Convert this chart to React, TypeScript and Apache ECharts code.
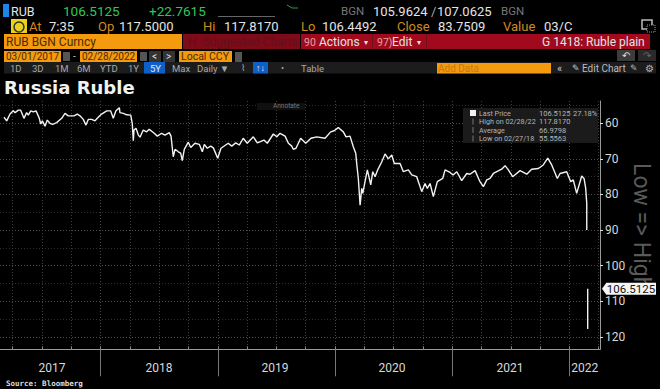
import React, { useEffect, useRef } from "react";
import * as echarts from "echarts";

const dates: number[] = [
  2017.176, 2017.199, 2017.227, 2017.255, 2017.27, 2017.298, 2017.318, 2017.346, 2017.369, 2017.383, 2017.404, 2017.426, 2017.449, 2017.477, 2017.489, 2017.503, 2017.526, 2017.545, 2017.568, 2017.591, 2017.625, 2017.668, 2017.696, 2017.724, 2017.753, 2017.773, 2017.801, 2017.824, 2017.852, 2017.875, 2017.895, 2017.924, 2017.952, 2017.986,
  2018.009, 2018.052, 2018.086, 2018.108, 2018.131, 2018.16, 2018.165, 2018.194, 2018.223, 2018.257, 2018.27, 2018.279, 2018.285, 2018.302, 2018.322, 2018.336, 2018.364, 2018.393, 2018.415, 2018.45, 2018.484, 2018.521, 2018.549, 2018.586, 2018.601, 2018.612, 2018.62, 2018.635, 2018.663, 2018.683, 2018.697, 2018.714, 2018.748, 2018.769, 2018.805, 2018.842, 2018.868, 2018.885, 2018.91, 2018.939, 2018.962, 2018.999,
  2019.027, 2019.089, 2019.119, 2019.153, 2019.183, 2019.217, 2019.251, 2019.303, 2019.337, 2019.394, 2019.422, 2019.474, 2019.503, 2019.531, 2019.574, 2019.602, 2019.631, 2019.644, 2019.667, 2019.707, 2019.75, 2019.795, 2019.844, 2019.915, 2019.963, 2019.992,
  2020.028, 2020.071, 2020.094, 2020.128, 2020.156, 2020.177, 2020.185, 2020.199, 2020.214, 2020.228, 2020.237, 2020.256, 2020.276, 2020.305, 2020.322, 2020.342, 2020.361, 2020.399, 2020.427, 2020.455, 2020.484, 2020.506, 2020.555, 2020.583, 2020.626, 2020.655, 2020.697, 2020.74, 2020.768, 2020.788, 2020.811, 2020.839, 2020.873, 2020.919, 2020.939, 2020.981,
  2021.007, 2021.039, 2021.081, 2021.124, 2021.152, 2021.195, 2021.237, 2021.266, 2021.295, 2021.323, 2021.351, 2021.422, 2021.451, 2021.479, 2021.516, 2021.579, 2021.636, 2021.678, 2021.735, 2021.777, 2021.815, 2021.849, 2021.897, 2021.92, 2021.977,
  2022.011, 2022.033, 2022.062, 2022.105, 2022.125, 2022.139, 2022.148, 2022.148, 2022.152, 2022.156, 2022.156, 2022.156,
];
const rates: (number | null)[] = [
  58.3, 59.3, 57.4, 56.5, 57.0, 56.3, 56.3, 58.6, 57.0, 57.7, 56.5, 56.8, 56.5, 58.6, 60.2, 59.3, 60.8, 59.1, 60.0, 60.3, 59.8, 58.6, 57.2, 57.9, 57.9, 57.9, 57.4, 57.9, 58.9, 60.5, 58.9, 58.9, 59.3, 58.1,
  57.4, 56.5, 56.5, 58.6, 56.5, 55.6, 57.0, 57.2, 57.6, 57.7, 60.0, 64.9, 61.9, 61.4, 63.3, 63.9, 61.9, 62.4, 61.7, 62.6, 63.6, 62.8, 63.3, 62.6, 63.6, 67.0, 69.4, 67.3, 68.0, 68.4, 70.5, 67.3, 65.3, 66.8, 65.6, 65.9, 68.0, 65.9, 67.0, 66.4, 66.9, 69.8,
  67.0, 65.6, 66.4, 65.5, 66.1, 64.2, 65.6, 63.8, 65.5, 64.7, 65.6, 63.0, 63.8, 62.8, 63.6, 65.6, 66.4, 67.3, 67.0, 64.2, 65.6, 64.2, 63.8, 64.2, 62.4, 62.1,
  61.2, 62.4, 63.8, 63.6, 66.6, 68.4, 71.3, 75.5, 83.0, 78.3, 79.7, 76.4, 73.1, 77.3, 73.6, 75.0, 73.3, 70.8, 68.6, 70.0, 68.9, 71.3, 71.3, 73.6, 73.1, 74.5, 75.0, 79.2, 76.9, 78.3, 76.9, 80.6, 76.4, 75.5, 73.1, 73.8,
  74.5, 73.6, 76.1, 74.1, 74.3, 73.3, 76.4, 77.8, 75.9, 75.5, 74.1, 72.9, 71.9, 73.1, 75.0, 73.3, 74.3, 72.9, 72.7, 71.7, 69.8, 71.7, 75.5, 74.1, 73.6,
  76.4, 75.9, 79.7, 74.8, 75.5, 78.3, 82.5, 90.0, null, 106.5, 117.817, 106.5125,
];

const lastPrice = 106.5125;
const yearStarts = [2018, 2019, 2020, 2021, 2022];
const quarterTicks = [
  2017.25, 2017.5, 2017.75, 2018, 2018.25, 2018.5, 2018.75, 2019, 2019.25, 2019.5, 2019.75, 2020, 2020.25, 2020.5, 2020.75, 2021, 2021.25, 2021.5, 2021.75, 2022, 2022.25,
];
const yearLabelPositions = [2017.585, 2018.498, 2019.488, 2020.486, 2021.493, 2022.13];
const majorLevels = [60, 70, 80, 90, 100, 110, 120];
const minorLevels = [55, 65, 75, 85, 95, 105, 115];

const periodTabs: [string, number][] = [
  ["1D", 10], ["3D", 32], ["1M", 55], ["6M", 77], ["YTD", 100], ["1Y", 128], ["Max", 172], ["Daily ▼", 197], ["Table", 301],
];
const legendRows: [string, string, string, number][] = [
  ["Last Price", "106.5125", "27.18%", 113],
  ["High on 02/28/22", "117.8170", "", 121.5],
  ["Average", "66.9798", "", 130],
  ["Low on 02/27/18", "55.5563", "", 138.5],
];

const SANS = "Roboto, 'Liberation Sans', sans-serif";
const T = (x: number, y: number, text: string, fill: string, size = 12, extra: any = {}) => ({
  type: "text",
  x,
  y,
  silent: true,
  z: extra.z ?? 10,
  rotation: extra.rotation ?? 0,
  style: {
    text,
    fill,
    font: `${extra.weight ?? "normal"} ${size}px ${extra.family ?? SANS}`,
    verticalAlign: "middle",
    align: extra.align ?? "left",
  },
});
const R = (x: number, y: number, width: number, height: number, fill: string, z = 5) => ({
  type: "rect",
  silent: true,
  z,
  shape: { x, y, width, height },
  style: { fill },
});

const ORANGE = "#f39a0f";
const LABEL = "#d08a20";
const WHITE = "#e4e4e4";

function headerGraphics() {
  const g: any[] = [
    R(3, 4, 6, 13, "#1a86e8"),
    T(11, 11, "RUB", WHITE, 12.5),
    T(63, 11, "106.5125", "#35c45a", 13.5),
    T(149, 11, "+22.7615", "#35c45a", 13.5),
    T(341, 11, "BGN", "#777", 11.5),
    T(373, 11, "105.9624", WHITE, 13),
    T(431, 11, "/", "#aaa", 13),
    T(437, 11, "107.0625", WHITE, 13),
    T(501, 11, "BGN", "#777", 11.5),
    R(218, 16, 57, 1, "#666"),
    { type: "polyline", silent: true, z: 6, shape: { points: [[287, 5], [292, 8], [298, 8]] }, style: { stroke: "#2f9a4d", fill: "none", lineWidth: 1 } },
    R(11, 19, 16, 14, "#e8d21c"),
    { type: "circle", silent: true, z: 6, shape: { cx: 19, cy: 27, r: 5 }, style: { fill: "none", stroke: "#333", lineWidth: 1.5 } },
    T(29, 26, "At", LABEL, 13),
    T(49, 26, "7:35", WHITE, 13),
    T(98, 26, "Op", LABEL, 13),
    T(119, 26, "117.5000", WHITE, 13),
    T(203, 26, "Hi", LABEL, 13),
    T(224, 26, "117.8170", WHITE, 13),
    T(301, 26, "Lo", LABEL, 13),
    T(322, 26, "106.4492", WHITE, 13),
    T(397, 26, "Close", LABEL, 13),
    T(438, 26, "83.7509", WHITE, 13),
    T(503, 26, "Value", LABEL, 13),
    T(544, 26, "03/C", WHITE, 13),
    { type: "rect", silent: true, z: 6, shape: { x: 642, y: 20, width: 10, height: 9 }, style: { fill: "none", stroke: "#bbb", lineWidth: 1.5 } },
    { type: "rect", silent: true, z: 6, shape: { x: 647, y: 25, width: 8, height: 7 }, style: { fill: "#000", stroke: "#999", lineWidth: 1, lineDash: [1, 1] } },

    R(4, 34, 178, 15, ORANGE),
    T(6, 42, "RUB BGN Curncy", "#4a2b00", 12),
    R(183, 34, 117, 15, "#7f0a1a"),
    T(188, 42, "H  Suggested Charts", "#5e1218", 12),
    R(301, 34, 349, 15, "#a00a1c"),
    T(304, 42, "90", "#e0a0a0", 10.5),
    T(319, 42, "Actions", WHITE, 12),
    T(364, 42, "▾", WHITE, 8),
    R(372, 34, 1, 15, "#70101a"),
    T(377, 42, "97)", "#e0a0a0", 10.5),
    T(392, 42, "Edit", WHITE, 12),
    T(417, 42, "▾", WHITE, 8),
    R(426, 34, 1, 15, "#70101a"),
    T(542, 42, "G 1418: Ruble plain", WHITE, 12),

    R(4, 51, 57, 11, ORANGE),
    T(6, 56.5, "03/01/2017", "#4a2b00", 10),
    R(63, 52, 7, 9, "#555"),
    T(73, 56.5, "-", "#bbb", 10),
    R(80, 51, 57, 11, ORANGE),
    T(82, 56.5, "02/28/2022", "#4a2b00", 10),
    R(140, 52, 7, 9, "#555"),
    R(149, 51, 12, 11, "#333"),
    T(152, 56.5, "<", "#ddd", 10),
    R(163, 51, 12, 11, "#333"),
    T(166, 56.5, ">", "#ddd", 10),
    R(179, 51, 53, 11, ORANGE),
    T(181, 56.5, "Local CCY", "#4a2b00", 10.5),
    R(235, 52, 7, 10, "#555"),
    R(617, 50, 18, 11, "#3c3c3c"),
    T(622, 55.5, "↶", "#ddd", 10),
    R(638, 50, 18, 11, "#2a2a2a"),
    T(643, 55.5, "↷", "#666", 10),

    R(4, 62, 652, 11.5, "#1c1c1c", 4),
    R(144, 62, 21, 11.5, "#0f5fc8"),
    T(150, 68, "5Y", "#e8e8e8", 9.5),
    R(253, 62, 15, 11.5, "#0f5fc8"),
    T(256, 68, "↑↓", "#e8e8e8", 9),
    T(241, 68, "⌇", "#aaa", 9),
    T(281, 68, "•", "#aaa", 9),
    R(437, 63, 114, 10.5, ORANGE),
    T(438, 68, "Add Data", "#c57a10", 10),
    T(557, 68, "«", "#ccc", 11),
    T(572, 68, "✎", "#ccc", 9),
    T(582, 68, "Edit Chart", "#bbb", 10),
    T(630, 68, "✎", "#bbb", 9),
    T(645, 68, "⚙", "#bbb", 10),

    T(4, 87, "Russia Ruble", "#f2f2f2", 18, { weight: "bold", family: "'DejaVu Sans', sans-serif" }),
    T(6, 383, "Source: Bloomberg", "#ddd", 7.5, { weight: "bold", family: "'DejaVu Sans Mono', monospace" }),

    R(257, 103, 48, 7, "#101010", 3),
    T(273, 106, "Annotate", "#777", 6.5),

    T(641, 163, "Low => High", "#5a5a5a", 23, { rotation: -Math.PI / 2, z: 1 }),

    R(463, 108, 135, 35, "#1b1b1b", 20),
    R(470, 110, 6, 6, "#f2f2f2", 21),
  ];
  periodTabs.forEach(([text, x]) => g.push(T(x, 68, text, "#a8a8a8", 9.5)));
  legendRows.forEach(([name, value, pct, y], i) => {
    g.push(T(479, y, name, "#b4b4b4", 7.2, { z: 21 }));
    g.push(T(539, y, value, "#b4b4b4", 7.5, { z: 21 }));
    if (pct) g.push(T(573, y, pct, "#b4b4b4", 7.5, { z: 21 }));
    if (i > 0) g.push(R(472.5, y - 3, 1, 6, "#777", 21));
  });
  return g;
}

export default function App() {
  const ref = useRef<HTMLDivElement>(null);
  useEffect(() => {
    document.body.style.margin = "0";
    document.body.style.background = "#000";
    const chart = echarts.init(ref.current!, null, { renderer: "svg" });
    const axisGrey = "#9a9a9a";
    const labelStyle = { color: "#d8d8d8", fontSize: 12, fontFamily: SANS };
    chart.setOption({
      animation: false,
      backgroundColor: "#000",
      grid: { left: 0, right: 60, top: 101, bottom: 39.7 },
      xAxis: [
        {
          type: "value",
          min: 2017.1416,
          max: 2022.261,
          position: "bottom",
          axisLine: { show: true, onZero: false, lineStyle: { color: axisGrey, width: 1 } },
          axisTick: { show: true, inside: true, length: 3, customValues: quarterTicks, lineStyle: { color: "#888" } },
          axisLabel: {
            ...labelStyle,
            margin: 13,
            customValues: yearLabelPositions,
            formatter: (v: number) => String(Math.floor(v)),
            showMinLabel: true,
            showMaxLabel: true,
            hideOverlap: false,
          },
          splitLine: { show: true, lineStyle: { color: "#3f3f3f", type: [1, 2], width: 1 } },
        },
        {
          type: "value",
          min: 2017.1416,
          max: 2022.261,
          position: "bottom",
          axisLine: { show: false, onZero: false },
          axisTick: { show: true, length: 27, customValues: yearStarts, lineStyle: { color: "#777", width: 1 } },
          axisLabel: { show: false },
          splitLine: { show: true, lineStyle: { color: "#4a4a4a", type: [1, 2], width: 1 } },
        },
      ],
      yAxis: [
        {
          type: "value",
          inverse: true,
          min: 53.73,
          max: 123.5,
          position: "right",
          axisLine: { show: true, onZero: false, lineStyle: { color: axisGrey, width: 1 } },
          axisTick: { show: true, length: 3, customValues: majorLevels, lineStyle: { color: "#ddd" } },
          axisLabel: {
            ...labelStyle,
            margin: 5,
            customValues: majorLevels,
            align: "left",
            showMinLabel: true,
            showMaxLabel: true,
            hideOverlap: false,
          },
          splitLine: { show: true, lineStyle: { color: "#4c4c4c", type: [1, 2], width: 1 } },
        },
        {
          type: "value",
          inverse: true,
          min: 53.73,
          max: 123.5,
          position: "right",
          axisLine: { show: false, onZero: false },
          axisTick: { show: false, customValues: minorLevels },
          axisLabel: { show: false },
          splitLine: { show: true, lineStyle: { color: "#2e2e2e", type: [1, 2], width: 1 } },
        },
      ],
      graphic: { elements: headerGraphics() },
      series: [
        {
          type: "line",
          xAxisIndex: 0,
          yAxisIndex: 0,
          data: dates.map((d, i) => [d, rates[i]]),
          showSymbol: false,
          connectNulls: false,
          clip: false,
          z: 5,
          lineStyle: { color: "#f2f2f2", width: 1.4 },
          markPoint: {
            silent: true,
            symbol: "path://M0 50L8 0H100V100H8Z",
            symbolSize: [54, 12],
            symbolOffset: [29, 0],
            itemStyle: { color: "#f5f5f5" },
            label: {
              show: true,
              position: "inside",
              color: "#111",
              fontSize: 11.5,
              fontFamily: SANS,
              offset: [2, 0],
              formatter: () => lastPrice.toFixed(4),
            },
            data: [{ coord: [2022.261, lastPrice] }],
          },
        },
      ],
    });
    return () => chart.dispose();
  }, []);
  return <div ref={ref} style={{ width: 660, height: 389 }} />;
}
